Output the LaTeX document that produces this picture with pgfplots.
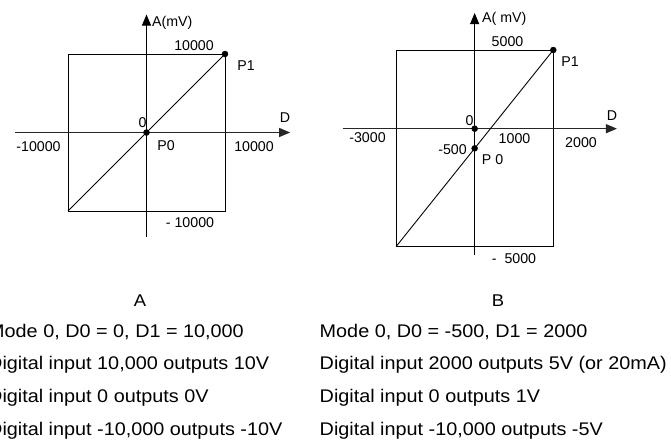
\documentclass[border=0pt]{standalone}
\usepackage{fontspec}
\setmainfont{Liberation Sans}
\newfontfamily\capfont{Liberation Sans}[FakeStretch=1.083]
\usepackage{pgfplots}
\pgfplotsset{compat=1.18}
\usetikzlibrary{arrows.meta}
\newcommand{\lab}{\fontsize{14.2bp}{16bp}\selectfont}
\newcommand{\captxt}{\capfont\fontsize{18.3bp}{20bp}\selectfont}
\begin{document}
\begin{tikzpicture}
\path[use as bounding box, clip] (0bp,-442bp) rectangle (671bp,0bp);
\fill[white] (0bp,-442bp) rectangle (671bp,0bp);
% ---------- Diagram A ----------
\begin{axis}[scale only axis, width=157bp, height=157bp,
  xmin=-10000, xmax=10000, ymin=-10000, ymax=10000,
  axis lines=none, clip=false, at={(68bp,-211bp)}, anchor=south west]
\addplot[black, line width=0.9bp] coordinates {(-10000,-10000) (10000,-10000) (10000,10000) (-10000,10000) (-10000,-10000)};
\addplot[black!85, line width=1.2bp, -{Triangle[length=11bp,width=9bp]}] coordinates {(-16780,0) (18300,0)};
\addplot[black, line width=0.9bp, -{Triangle[length=11bp,width=9bp]}] coordinates {(0,-13250) (0,15030)};
\addplot[black, line width=0.9bp] coordinates {(-10000,-10000) (10000,10000)};
\addplot[only marks, mark=*, mark size=3bp, black] coordinates {(0,0) (10000,10000)};
\end{axis}
% ---------- Diagram B ----------
\begin{axis}[scale only axis, width=157.3bp, height=196.7bp,
  xmin=-3000, xmax=2000, ymin=-5000, ymax=5000,
  axis lines=none, clip=false, at={(396bp,-246.7bp)}, anchor=south west]
\addplot[black, line width=0.9bp] coordinates {(-3000,-5000) (2000,-5000) (2000,5000) (-3000,5000) (-3000,-5000)};
\addplot[black!85, line width=1.2bp, -{Triangle[length=11bp,width=9bp]}] coordinates {(-4694,1000) (4023,1000)};
\addplot[black, line width=0.9bp, -{Triangle[length=11bp,width=9bp]}] coordinates {(-500,-5422) (-500,6881)};
\addplot[black, line width=0.9bp] coordinates {(-3000,-5000) (2000,5000)};
\addplot[only marks, mark=*, mark size=3bp, black] coordinates {(-500,1000) (-500,0) (2000,5000)};
\end{axis}
% ---------- labels A ----------
\node[anchor=base west, font=\lab, inner sep=0pt] at (152bp,-26bp) {A(mV)};
\node[anchor=base, font=\lab, inner sep=0pt] at (194bp,-50bp) {10000};
\node[anchor=base, font=\lab, inner sep=0pt] at (246bp,-70bp) {P1};
\node[anchor=base, font=\lab, inner sep=0pt] at (285bp,-122bp) {D};
\node[anchor=base, font=\lab, inner sep=0pt] at (142.5bp,-127.7bp) {0};
\node[anchor=base, font=\lab, inner sep=0pt] at (38.5bp,-151.7bp) {-10000};
\node[anchor=base, font=\lab, inner sep=0pt] at (166bp,-150bp) {P0};
\node[anchor=base, font=\lab, inner sep=0pt] at (254bp,-151.7bp) {10000};
\node[anchor=base, font=\lab, inner sep=0pt] at (190bp,-227.5bp) {- 10000};
% ---------- labels B ----------
\node[anchor=base west, font=\lab, inner sep=0pt] at (482bp,-22bp) {A( mV)};
\node[anchor=base, font=\lab, inner sep=0pt] at (507.5bp,-46.7bp) {5000};
\node[anchor=base, font=\lab, inner sep=0pt] at (570bp,-66.7bp) {P1};
\node[anchor=base, font=\lab, inner sep=0pt] at (612bp,-120bp) {D};
\node[anchor=base, font=\lab, inner sep=0pt] at (469.5bp,-125bp) {0};
\node[anchor=base, font=\lab, inner sep=0pt] at (367.5bp,-142.7bp) {-3000};
\node[anchor=base, font=\lab, inner sep=0pt] at (514.5bp,-143bp) {1000};
\node[anchor=base, font=\lab, inner sep=0pt] at (581bp,-147.3bp) {2000};
\node[anchor=base, font=\lab, inner sep=0pt] at (452.5bp,-154bp) {-500};
\node[anchor=base, font=\lab, inner sep=0pt] at (492.5bp,-164bp) {P 0};
\node[anchor=base, font=\lab, inner sep=0pt] at (514bp,-263.3bp) {-\ \ 5000};
% ---------- captions ----------
\node[anchor=base, font=\capfont\fontsize{17bp}{20bp}\selectfont, inner sep=0pt] at (140bp,-306.7bp) {A};
\node[anchor=base, font=\capfont\fontsize{17bp}{20bp}\selectfont, inner sep=0pt] at (498bp,-306.7bp) {B};
\node[anchor=base west, font=\captxt, inner sep=0pt] at (-12bp,-337bp) {Mode 0, D0 = 0, D1 = 10,000};
\node[anchor=base west, font=\captxt, inner sep=0pt] at (-12bp,-369.7bp) {Digital input 10,000 outputs 10V};
\node[anchor=base west, font=\captxt, inner sep=0pt] at (-12bp,-402.3bp) {Digital input 0 outputs 0V};
\node[anchor=base west, font=\captxt, inner sep=0pt] at (-12bp,-435bp) {Digital input -10,000 outputs -10V};
\node[anchor=base west, font=\captxt, inner sep=0pt] at (319.5bp,-337bp) {Mode 0, D0 = -500, D1 = 2000};
\node[anchor=base west, font=\captxt, inner sep=0pt] at (319.5bp,-369.7bp) {Digital input 2000 outputs 5V (or 20mA)};
\node[anchor=base west, font=\captxt, inner sep=0pt] at (319.5bp,-402.3bp) {Digital input 0 outputs 1V};
\node[anchor=base west, font=\captxt, inner sep=0pt] at (319.5bp,-435bp) {Digital input -10,000 outputs -5V};
\end{tikzpicture}
\end{document}
